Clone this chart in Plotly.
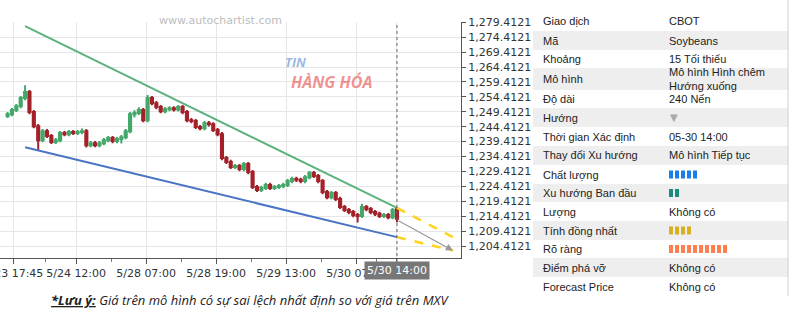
import plotly.graph_objects as go

# ---------------- data ----------------
candle_open = [1248.0, 1248.6, 1250.0, 1251.3, 1254.0, 1256.0, 1249.3, 1244.6, 1239.9, 1242.9,
               1241.3, 1239.3, 1239.9, 1242.3, 1241.9, 1242.6, 1242.3, 1242.6, 1242.9, 1238.2,
               1238.9, 1238.2, 1238.9, 1239.9, 1240.6, 1239.6, 1240.3, 1240.9, 1242.9, 1248.6,
               1249.0, 1250.0, 1246.6, 1254.0, 1252.3, 1251.0, 1249.6, 1250.3, 1250.6, 1250.2,
               1251.0, 1249.3, 1246.6, 1246.3, 1244.3, 1243.9, 1245.6, 1245.2, 1243.3, 1241.9,
               1233.9, 1232.6, 1230.9, 1231.2, 1230.2, 1231.9, 1229.2, 1224.2, 1223.2, 1223.9,
               1224.9, 1223.9, 1224.2, 1224.5, 1224.9, 1226.2, 1226.9, 1226.6, 1226.2, 1227.5,
               1228.9, 1227.9, 1226.2, 1222.5, 1220.8, 1222.2, 1220.2, 1217.5, 1216.5, 1215.8,
               1214.8, 1214.5, 1217.5, 1216.8, 1215.8, 1215.2, 1214.5, 1214.8, 1214.1, 1216.8]
candle_close = [1248.6, 1250.0, 1251.3, 1254.0, 1256.0, 1249.3, 1244.6, 1239.9, 1242.9, 1241.3,
                1239.3, 1239.9, 1242.3, 1241.9, 1242.6, 1242.3, 1242.6, 1242.9, 1238.2, 1238.9,
                1238.2, 1238.9, 1239.9, 1240.6, 1239.6, 1240.3, 1240.9, 1242.9, 1248.6, 1249.0,
                1250.0, 1246.6, 1254.0, 1252.3, 1251.0, 1249.6, 1250.3, 1250.6, 1250.2, 1251.0,
                1249.3, 1246.6, 1246.3, 1244.3, 1243.9, 1245.6, 1245.2, 1243.3, 1241.9, 1233.9,
                1232.6, 1230.9, 1231.2, 1230.2, 1231.9, 1229.2, 1224.2, 1223.2, 1223.9, 1224.9,
                1223.9, 1224.2, 1224.5, 1224.9, 1226.2, 1226.9, 1226.6, 1226.2, 1227.5, 1228.9,
                1227.9, 1226.2, 1222.5, 1220.8, 1222.2, 1220.2, 1217.5, 1216.5, 1215.8, 1214.8,
                1214.5, 1217.5, 1216.8, 1215.8, 1215.2, 1214.5, 1214.8, 1214.1, 1216.5, 1213.6]
candle_high = [1249.3, 1250.7, 1252.0, 1254.7, 1258.3, 1256.7, 1250.0, 1245.3, 1243.6, 1243.6,
               1242.0, 1240.6, 1243.0, 1243.0, 1243.3, 1243.3, 1243.3, 1243.8, 1243.6, 1239.6,
               1239.6, 1239.6, 1240.6, 1241.3, 1241.3, 1241.0, 1241.6, 1243.6, 1249.3, 1249.9,
               1250.9, 1250.7, 1255.0, 1254.7, 1253.0, 1251.7, 1251.0, 1251.3, 1251.3, 1251.7,
               1251.7, 1250.0, 1247.3, 1247.0, 1245.0, 1246.3, 1246.3, 1245.9, 1244.0, 1242.6,
               1234.6, 1233.3, 1231.9, 1231.9, 1232.6, 1232.6, 1229.9, 1224.9, 1224.6, 1225.6,
               1225.6, 1224.9, 1225.2, 1225.6, 1226.9, 1227.6, 1227.6, 1227.3, 1228.2, 1229.6,
               1229.6, 1228.6, 1226.9, 1223.2, 1222.9, 1222.9, 1220.9, 1218.2, 1217.2, 1216.5,
               1215.5, 1218.6, 1218.2, 1217.5, 1216.5, 1215.9, 1215.5, 1215.5, 1217.2, 1217.5]
candle_low = [1247.3, 1247.9, 1249.3, 1250.6, 1253.3, 1248.6, 1243.9, 1236.6, 1239.2, 1240.6,
              1238.6, 1238.6, 1239.2, 1241.2, 1241.2, 1241.6, 1241.6, 1241.9, 1237.4, 1237.5,
              1237.5, 1237.5, 1238.2, 1239.2, 1238.9, 1238.9, 1238.8, 1240.2, 1242.2, 1247.5,
              1248.3, 1245.9, 1245.9, 1251.6, 1250.3, 1248.9, 1248.9, 1249.6, 1249.5, 1249.5,
              1248.6, 1245.9, 1245.6, 1243.6, 1243.2, 1243.2, 1244.5, 1242.6, 1241.2, 1233.2,
              1231.9, 1230.2, 1230.2, 1229.5, 1229.5, 1228.5, 1223.5, 1222.5, 1222.5, 1223.2,
              1223.2, 1223.2, 1223.5, 1223.8, 1224.2, 1225.5, 1225.9, 1225.5, 1225.5, 1226.8,
              1227.2, 1225.5, 1221.8, 1220.1, 1220.1, 1219.5, 1216.8, 1215.8, 1215.1, 1214.1,
              1212.3, 1213.8, 1216.1, 1215.1, 1214.5, 1213.8, 1213.8, 1213.4, 1213.4, 1212.4]
candle_index = list(range(-267, 1, 3))  # candle positions (bars before 5/30 14:00)

x_tick_vals = [-263, -220, -172, -124, -76, -28, 0]
x_tick_text = ["5/23 17:45", "5/24 12:00", "5/28 07:00", "5/28 19:00", "5/29 13:00", "5/30 07:00", ""]
x_minor_vals = [-241, -196, -148, -100, -52, -14]
last_bar_label = "5/30 14:00"

y_tick_vals = [1204.4121, 1209.4121, 1214.4121, 1219.4121, 1224.4121, 1229.4121, 1234.4121, 1239.4121,
               1244.4121, 1249.4121, 1254.4121, 1259.4121, 1264.4121, 1269.4121, 1274.4121, 1279.4121]

upper_line_x = [-255, 0]
upper_line_y = [1278.1, 1217.2]
lower_line_x = [-255, 0]
lower_line_y = [1237.5, 1207.4]
forecast_x = [0, 38.4]
forecast_upper_y = [1217.2, 1207.4]
forecast_lower_y = [1207.4, 1202.9]
forecast_arrow_y = [1213.2, 1202.9]

table_labels = ["Giao dịch", "Mã", "Khoảng", "Mô hình", "Độ dài", "Hướng", "Thời gian Xác định",
                "Thay đổi Xu hướng", "Chất lượng", "Xu hướng Ban đầu", "Lượng", "Tính đồng nhất",
                "Rõ ràng", "Điểm phá vỡ", "Forecast Price"]
table_values = ["CBOT", "Soybeans", "15 Tối thiểu", "Mô hình Hình chêm<br>Hướng xuống", "240 Nến", "▼",
                "05-30 14:00", "Mô hình Tiếp tục", None, None, "Không có", None, None,
                "Không có", "Không có"]
score_bars = {"Chất lượng": 5, "Xu hướng Ban đầu": 2, "Tính đồng nhất": 4, "Rõ ràng": 10}
score_colors = {"Chất lượng": "#1a7fe6", "Xu hướng Ban đầu": "#1b8a7c",
                "Tính đồng nhất": "#d8ae22", "Rõ ràng": "#ff7f50"}

# ---------------- layout geometry (pixels) ----------------
W, H = 800, 327
PL, PR, PT, PB = 0, 461, 22, 258   # plot area


def fx(px):
    return (px - PL) / (PR - PL)


def fy(py):
    return (PB - py) / (PB - PT)


GREEN = "#43a86a"
RED = "#a3222a"

fig = go.Figure()
fig.add_trace(go.Candlestick(
    x=candle_index, open=candle_open, high=candle_high, low=candle_low, close=candle_close,
    increasing=dict(line=dict(color=GREEN, width=2), fillcolor=GREEN),
    decreasing=dict(line=dict(color=RED, width=2), fillcolor=RED),
    whiskerwidth=0, showlegend=False, hoverinfo="skip"))

fig.add_trace(go.Scatter(x=upper_line_x, y=upper_line_y, mode="lines",
                         line=dict(color="#5cb27e", width=2), showlegend=False, hoverinfo="skip"))
fig.add_trace(go.Scatter(x=lower_line_x, y=lower_line_y, mode="lines",
                         line=dict(color="#4a74c4", width=2), showlegend=False, hoverinfo="skip"))
fig.add_trace(go.Scatter(x=forecast_x, y=forecast_upper_y, mode="lines",
                         line=dict(color="#ffd21f", width=2.5, dash="dash"), showlegend=False, hoverinfo="skip"))
fig.add_trace(go.Scatter(x=forecast_x, y=forecast_lower_y, mode="lines",
                         line=dict(color="#ffd21f", width=2.5, dash="dash"), showlegend=False, hoverinfo="skip"))

shapes = []
annotations = []

# vertical dotted line at last bar
shapes.append(dict(type="line", xref="x", yref="paper", x0=0, x1=0, y0=fy(262), y1=fy(25),
                   line=dict(color="#666666", width=1, dash="dot"), layer="above"))

# forecast arrow
annotations.append(dict(x=forecast_x[1], y=forecast_arrow_y[1], ax=forecast_x[0], ay=forecast_arrow_y[0],
                        xref="x", yref="y", axref="x", ayref="y", text="", showarrow=True,
                        arrowhead=2, arrowsize=1.2, arrowwidth=1.2, arrowcolor="#999999"))

# highlighted last bar label
annotations.append(dict(x=0, y=fy(270), xref="x", yref="paper", text=last_bar_label, showarrow=False,
                        font=dict(family="DejaVu Sans", size=11, color="white"),
                        bgcolor="#777777", borderpad=2, xanchor="center", yanchor="middle"))

# watermark + logo
annotations.append(dict(x=fx(220), y=fy(20), xref="paper", yref="paper", text="www.autochartist.com",
                        showarrow=False, font=dict(family="DejaVu Sans", size=11, color="#bdbdbd"),
                        xanchor="center", yanchor="middle"))
annotations.append(dict(x=fx(295), y=fy(62), xref="paper", yref="paper", text="<b><i>TIN</i></b>",
                        showarrow=False, font=dict(family="Open Sans", size=13, color="rgba(120,160,215,0.75)"),
                        xanchor="center", yanchor="middle"))
annotations.append(dict(x=fx(331), y=fy(82), xref="paper", yref="paper", text="<b><i>HÀNG HÓA</i></b>",
                        showarrow=False, font=dict(family="Open Sans", size=16, color="rgba(235,110,110,0.75)"),
                        xanchor="center", yanchor="middle"))

# info table
row_bounds = [12, 31, 50, 68, 90, 108, 127, 146, 165, 184, 202, 221, 240, 258, 277, 296]
for i, (lab, val) in enumerate(zip(table_labels, table_values)):
    top, bot = row_bounds[i], row_bounds[i + 1]
    cy = (top + bot) / 2
    if i % 2 == 1:
        shapes.append(dict(type="rect", xref="paper", yref="paper", x0=fx(533), x1=fx(788),
                           y0=fy(bot), y1=fy(top), fillcolor="#eeeeee", line=dict(width=0), layer="below"))
    annotations.append(dict(x=fx(541), y=fy(cy), xref="paper", yref="paper", text=lab, showarrow=False,
                            font=dict(family="Liberation Sans", size=11, color="#222222"),
                            xanchor="left", yanchor="middle"))
    if val == "▼":
        annotations.append(dict(x=fx(668), y=fy(cy), xref="paper", yref="paper", text=val, showarrow=False,
                                font=dict(family="DejaVu Sans", size=10, color="#aaaaaa"),
                                xanchor="left", yanchor="middle"))
    elif val is not None:
        annotations.append(dict(x=fx(667), y=fy(cy), xref="paper", yref="paper", text=val, showarrow=False,
                                font=dict(family="Liberation Sans", size=11, color="#222222"),
                                xanchor="left", yanchor="middle", align="left"))
    if lab in score_bars:
        for k in range(score_bars[lab]):
            x0 = 669 + k * 6
            shapes.append(dict(type="rect", xref="paper", yref="paper", x0=fx(x0), x1=fx(x0 + 4),
                               y0=fy(cy + 4), y1=fy(cy - 4), fillcolor=score_colors[lab],
                               line=dict(width=0)))

# right border of table
shapes.append(dict(type="line", xref="paper", yref="paper", x0=fx(788), x1=fx(788), y0=fy(296), y1=fy(0),
                   line=dict(color="#d0d0d0", width=1)))

# note
annotations.append(dict(x=fx(250), y=fy(300), xref="paper", yref="paper",
                        text="<b><i><u>*Lưu ý:</u></i></b><i> Giá trên mô hình có sự sai lệch nhất định so với giá trên MXV</i>",
                        showarrow=False, font=dict(family="Open Sans", size=13, color="#222222"),
                        xanchor="center", yanchor="middle"))

fig.update_layout(
    width=W, height=H,
    margin=dict(l=PL, r=W - PR, t=PT, b=H - PB, pad=0),
    paper_bgcolor="white", plot_bgcolor="white",
    showlegend=False,
    shapes=shapes, annotations=annotations,
    xaxis=dict(range=[-272.2, 43.9], rangeslider=dict(visible=False), automargin=False,
               tickmode="array", tickvals=x_tick_vals, ticktext=x_tick_text,
               ticklabeloverflow="allow",
               ticks="outside", ticklen=5, tickcolor="#555555",
               minor=dict(tickvals=x_minor_vals, ticks="outside", ticklen=3, tickcolor="#777777", showgrid=False),
               showgrid=True, gridcolor="#e6e6e6", gridwidth=1,
               showline=True, linecolor="#555555", linewidth=1, zeroline=False,
               tickfont=dict(family="DejaVu Sans", size=11, color="#333333")),
    yaxis=dict(range=[1200.41, 1279.5], side="right", automargin=False,
               tickmode="array", tickvals=y_tick_vals, tickformat=",.4f",
               ticks="outside", ticklen=4, tickcolor="#555555",
               showgrid=True, gridcolor="#e6e6e6", gridwidth=1,
               showline=True, linecolor="#555555", linewidth=1, zeroline=False,
               tickfont=dict(family="DejaVu Sans", size=11, color="#333333")),
)

fig.write_html("out.html")
